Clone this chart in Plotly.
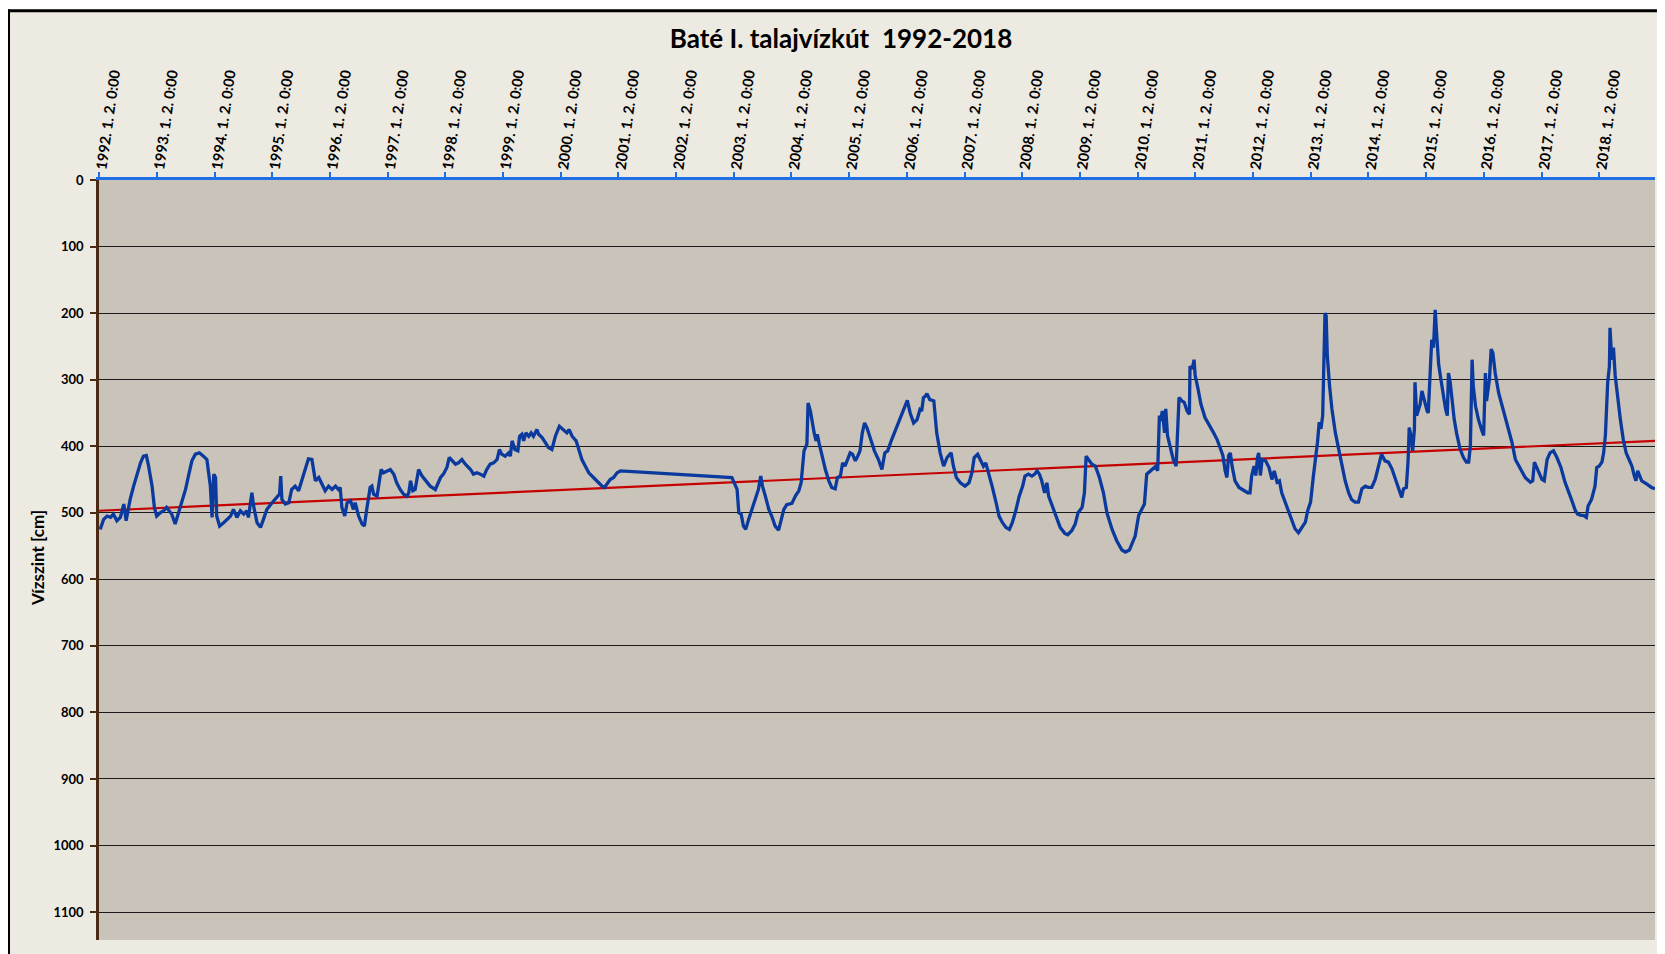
import plotly.graph_objects as go

# ---------------- data (decimal year, water level below surface in cm) ----------------
YEARS_1992_1996 = [1992.02,1992.08,1992.14,1992.20,1992.25,1992.31,1992.37,1992.43,1992.47,1992.50,1992.54,1992.60,1992.66,1992.72,1992.77,1992.82,1992.86,1992.92,1992.96,1993.00,1993.06,1993.12,1993.17,1993.21,1993.26,1993.32,1993.37,1993.43,1993.50,1993.55,1993.61,1993.67,1993.74,1993.81,1993.87,1993.93,1993.96,1993.99,1994.02,1994.04,1994.09,1994.16,1994.22,1994.28,1994.33,1994.39,1994.45,1994.51,1994.56,1994.59,1994.65,1994.68,1994.74,1994.80,1994.85,1994.91,1995.00,1995.08,1995.13,1995.15,1995.17,1995.23,1995.29,1995.34,1995.40,1995.46,1995.52,1995.58,1995.63,1995.69,1995.75,1995.81,1995.86,1995.92,1995.98,1996.04,1996.10,1996.15,1996.18,1996.21,1996.26,1996.30,1996.36,1996.41]
LEVELS_1992_1996 = [525,510,505,507,502,512,507,487,512,495,480,460,442,425,415,414,430,460,492,505,500,497,492,497,502,517,502,482,465,445,422,412,410,415,420,460,507,442,447,505,520,515,510,505,495,507,497,502,497,507,470,490,515,522,510,495,485,477,472,445,480,487,485,465,460,467,450,430,419,420,452,447,455,467,460,465,460,465,462,492,505,485,482,495]

YEARS_1996_2001 = [1996.44,1996.50,1996.56,1996.60,1996.64,1996.67,1996.70,1996.73,1996.76,1996.82,1996.86,1996.89,1996.93,1996.99,1997.05,1997.11,1997.16,1997.22,1997.28,1997.34,1997.37,1997.40,1997.44,1997.48,1997.54,1997.60,1997.66,1997.74,1997.83,1997.92,1997.97,1998.03,1998.07,1998.12,1998.18,1998.23,1998.29,1998.35,1998.44,1998.49,1998.55,1998.61,1998.67,1998.72,1998.78,1998.84,1998.90,1998.94,1998.98,1999.04,1999.10,1999.13,1999.16,1999.21,1999.26,1999.29,1999.33,1999.36,1999.40,1999.45,1999.49,1999.53,1999.59,1999.62,1999.68,1999.74,1999.79,1999.85,1999.91,1999.98,2000.05,2000.11,2000.15,2000.20,2000.27,2000.32,2000.37,2000.43,2000.49,2000.57,2000.66,2000.72,2000.76,2000.80,2000.86,2000.92,2000.98,2001.04]
LEVELS_1996_2001 = [485,505,517,520,495,475,462,460,472,475,450,435,440,437,435,442,455,465,472,475,470,452,467,465,435,445,452,460,465,447,442,432,417,422,427,425,420,427,435,442,440,442,445,435,427,425,420,405,412,415,410,415,392,405,407,385,382,392,380,385,380,385,375,382,387,395,402,405,385,370,375,380,375,385,392,407,420,430,440,447,455,460,462,457,450,447,440,437]

YEARS_2003_2005 = [2002.97,2003.02,2003.06,2003.09,2003.13,2003.17,2003.21,2003.26,2003.32,2003.37,2003.43,2003.47,2003.50,2003.55,2003.61,2003.66,2003.72,2003.78,2003.82,2003.87,2003.92,2004.01,2004.07,2004.13,2004.17,2004.20,2004.22,2004.27,2004.29,2004.33,2004.36,2004.40,2004.43,2004.45,2004.48,2004.53,2004.59,2004.65,2004.70,2004.76,2004.80,2004.85,2004.89,2004.93,2004.97,2005.02,2005.06,2005.11,2005.15,2005.19,2005.23,2005.27,2005.31,2005.37,2005.44]
LEVELS_2003_2005 = [447,457,465,500,502,520,525,510,495,480,465,445,460,475,495,505,520,526,510,495,488,486,475,467,455,430,407,397,335,347,365,382,392,382,395,415,435,452,462,464,447,445,425,430,422,410,412,422,415,407,380,365,372,387,407]

YEARS_2005_2009 = [2005.51,2005.57,2005.62,2005.67,2005.74,2005.83,2005.92,2006.01,2006.06,2006.12,2006.18,2006.23,2006.26,2006.29,2006.32,2006.35,2006.40,2006.47,2006.52,2006.58,2006.64,2006.70,2006.77,2006.81,2006.86,2006.93,2007.01,2007.08,2007.13,2007.17,2007.23,2007.29,2007.33,2007.37,2007.42,2007.48,2007.55,2007.60,2007.66,2007.72,2007.78,2007.83,2007.89,2007.95,2008.01,2008.05,2008.11,2008.17,2008.22,2008.26,2008.30,2008.34,2008.39,2008.43,2008.46,2008.52,2008.59,2008.66,2008.74,2008.79,2008.86,2008.92,2008.97,2009.04,2009.08,2009.11,2009.15,2009.21,2009.27,2009.34,2009.41,2009.47,2009.56,2009.64,2009.73,2009.79,2009.86,2009.91]
LEVELS_2005_2009 = [420,435,410,407,390,370,350,331,350,365,360,345,347,327,325,321,330,332,380,410,430,417,410,430,447,455,460,455,440,417,412,422,430,425,440,460,485,505,515,522,525,515,497,475,460,445,442,445,442,437,442,452,470,455,475,490,507,522,531,533,527,517,500,492,470,415,420,427,430,447,470,500,525,542,556,559,556,545]

YEARS_2010_2014 = [2009.96,2010.02,2010.08,2010.12,2010.16,2010.22,2010.28,2010.32,2010.35,2010.38,2010.40,2010.43,2010.47,2010.49,2010.52,2010.57,2010.62,2010.67,2010.70,2010.72,2010.77,2010.81,2010.86,2010.90,2010.91,2010.95,2010.98,2011.00,2011.05,2011.10,2011.17,2011.24,2011.32,2011.38,2011.43,2011.48,2011.52,2011.55,2011.58,2011.61,2011.64,2011.69,2011.76,2011.84,2011.91,2011.95,2011.98,2012.02,2012.05,2012.08,2012.10,2012.13,2012.16,2012.22,2012.28,2012.33,2012.37,2012.42,2012.46,2012.50,2012.56,2012.62,2012.68,2012.73,2012.79,2012.85,2012.91,2012.95,2013.00,2013.05,2013.09,2013.12,2013.15,2013.18,2013.21,2013.23,2013.25,2013.27,2013.29,2013.33,2013.37,2013.43,2013.48,2013.54,2013.60,2013.66,2013.71,2013.77,2013.83,2013.89,2013.95,2014.00,2014.06,2014.12,2014.18,2014.23,2014.29,2014.35,2014.41]
LEVELS_2010_2014 = [535,504,492,487,442,438,434,430,437,354,362,347,380,344,384,404,420,430,374,327,332,334,347,352,280,284,270,294,314,337,357,367,380,390,402,414,437,447,414,410,430,452,462,466,470,470,444,430,444,417,410,444,420,422,432,450,437,454,452,470,484,500,514,524,530,522,514,497,484,444,420,394,364,374,354,264,200,204,264,310,344,380,402,424,452,470,480,484,484,464,460,462,462,450,430,412,422,424,434]

YEARS_2014_2018 = [2014.47,2014.52,2014.58,2014.61,2014.66,2014.69,2014.71,2014.74,2014.77,2014.80,2014.81,2014.84,2014.87,2014.90,2014.93,2014.96,2014.99,2015.02,2015.04,2015.07,2015.10,2015.13,2015.16,2015.18,2015.22,2015.26,2015.30,2015.34,2015.37,2015.39,2015.42,2015.45,2015.49,2015.53,2015.59,2015.65,2015.70,2015.74,2015.77,2015.80,2015.82,2015.86,2015.91,2015.96,2016.00,2016.03,2016.05,2016.10,2016.13,2016.16,2016.20,2016.26,2016.32,2016.37,2016.43,2016.49,2016.55,2016.63,2016.72,2016.81,2016.85,2016.88,2016.94,2017.01,2017.05,2017.10,2017.15,2017.21,2017.27,2017.34,2017.41,2017.47,2017.53,2017.59,2017.63,2017.69,2017.73,2017.78,2017.81,2017.87,2017.93,2017.96,2018.00,2018.05,2018.08,2018.11,2018.13,2018.15,2018.18,2018.19,2018.22,2018.25,2018.28,2018.33,2018.37,2018.42,2018.47,2018.52,2018.57,2018.61,2018.64,2018.67,2018.70,2018.74,2018.83,2018.91,2018.97]
LEVELS_2014_2018 = [450,464,477,464,462,422,372,384,407,374,304,354,344,337,317,327,340,347,350,280,240,252,195,224,277,300,324,344,354,290,304,330,360,380,404,417,424,424,400,270,310,340,360,374,384,290,332,300,254,260,290,320,340,354,374,394,420,434,447,454,452,424,437,450,452,420,410,407,417,432,454,470,482,497,502,504,504,507,490,480,460,432,430,424,410,384,344,304,280,222,270,252,294,334,360,390,410,420,430,444,452,437,444,452,457,462,464]

TREND_YEARS = [1992.0, 2018.97]
TREND_LEVELS = [497, 392]

TICK_YEARS = list(range(1992, 2019))
TICK_LABELS = [f"{y}. 1. 2. 0:00" for y in TICK_YEARS]
Y_TICKS = list(range(0, 1200, 100))

TITLE = "Baté I. talajvízkút  1992-2018"
Y_TITLE = "Vízszint [cm]"

years = (YEARS_1992_1996 + YEARS_1996_2001 + YEARS_2003_2005 + YEARS_2005_2009
         + YEARS_2010_2014 + YEARS_2014_2018)
levels = (LEVELS_1992_1996 + LEVELS_1996_2001 + LEVELS_2003_2005 + LEVELS_2005_2009
          + LEVELS_2010_2014 + LEVELS_2014_2018)

# ---------------- layout geometry (page body has an 8px margin) ----------------
OFF = 8
W, H = 1665 - OFF, 954 - OFF
PLOT_L, PLOT_R, PLOT_T, PLOT_B = 99 - OFF, 1655 - OFF, 180 - OFF, 940 - OFF
ML, MR, MT, MB = PLOT_L, W - PLOT_R, PLOT_T, H - PLOT_B
PW, PH = PLOT_R - PLOT_L, PLOT_B - PLOT_T


def px(x):
    return (x - ML) / PW


def py(y):
    return (PLOT_B - y) / PH


FONT = "Lato, 'Open Sans', 'DejaVu Sans', sans-serif"

fig = go.Figure()
fig.add_trace(go.Scatter(x=TREND_YEARS, y=TREND_LEVELS, mode="lines",
                         line=dict(color="#C40000", width=2.2), hoverinfo="skip",
                         showlegend=False))
fig.add_trace(go.Scatter(x=years, y=levels, mode="lines",
                         line=dict(color="#0B3A9E", width=3.3), showlegend=False))

shapes = [
    dict(type="rect", xref="paper", yref="paper", x0=px(-2), x1=px(W + 2), y0=py(1.5), y1=py(-2),
         fillcolor="white", line_width=0, layer="above"),
    dict(type="line", xref="paper", yref="paper", x0=px(0.5), x1=px(0.5), y0=py(H + 2), y1=py(1.5),
         line=dict(color="black", width=3), layer="above"),
    dict(type="line", xref="paper", yref="paper", x0=px(-1), x1=px(W + 2), y0=py(2.8), y1=py(2.8),
         line=dict(color="black", width=3), layer="above"),
]

annotations = [
    dict(text=f"<b>{Y_TITLE}</b>", xref="paper", yref="paper",
         x=px(37 - OFF), y=py(558 - OFF), xanchor="center", yanchor="middle",
         textangle=-90, showarrow=False,
         font=dict(family=FONT, size=17, color="black")),
]

fig.update_layout(
    width=W, height=H,
    margin=dict(l=ML, r=MR, t=MT, b=MB, autoexpand=False),
    paper_bgcolor="#ECEAE1",
    plot_bgcolor="#CAC3B9",
    font=dict(family=FONT, color="black"),
    title=dict(text=f"<b>{TITLE}</b>", x=(841 - OFF) / W, xanchor="center",
               y=1 - (39 - OFF) / H, yanchor="middle",
               font=dict(family=FONT, size=26, color="black")),
    shapes=shapes,
    annotations=annotations,
    xaxis=dict(
        range=[1992.0, 2018.97], side="top",
        tickmode="array", tickvals=[y + 1 / 365 for y in TICK_YEARS], ticktext=TICK_LABELS,
        tickangle=-82, tickfont=dict(family=FONT, size=14.5, color="black", weight="bold"),
        ticks="outside", ticklen=5, tickwidth=2, tickcolor="#1F6FE5",
        showline=True, linecolor="#1F6FE5", linewidth=2.5,
        showgrid=False, zeroline=False, ticklabelstandoff=-10,
    ),
    yaxis=dict(
        range=[1142, 0], tickmode="array", tickvals=Y_TICKS,
        tickfont=dict(family=FONT, size=13, color="black", weight="bold"),
        ticks="outside", ticklen=6, tickwidth=2, tickcolor="#4A2A12",
        showline=True, linecolor="#4A2A12", linewidth=2.5,
        showgrid=True, gridcolor="#1A1A1A", gridwidth=1.2, zeroline=False,
        ticklabelstandoff=4,
    ),
)

fig.write_html("out.html")
